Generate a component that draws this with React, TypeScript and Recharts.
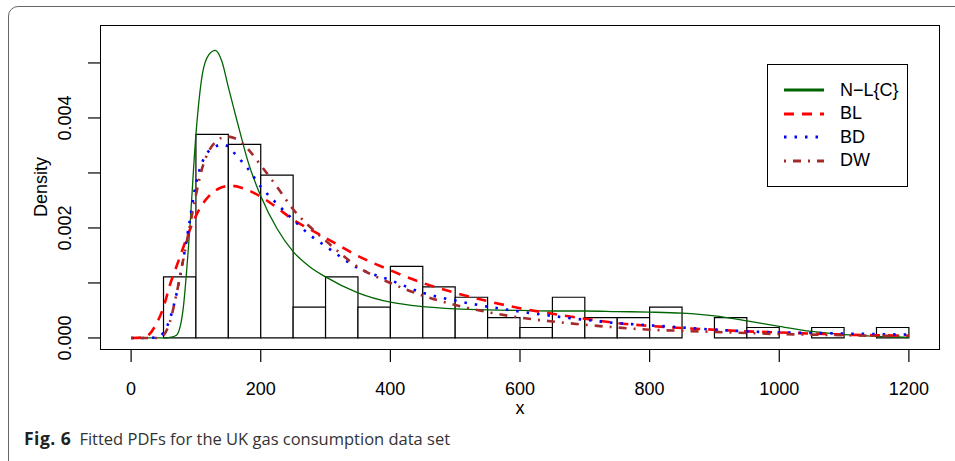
import React from "react";
import { ComposedChart, Line, XAxis, YAxis, ReferenceArea } from "recharts";

// histogram: bin starts (width 50) and densities
const binStarts = [50, 100, 150, 200, 250, 300, 350, 400, 450, 500, 550, 600, 650, 700, 750, 800, 850, 900, 950, 1000, 1050, 1100, 1150];
const binDensity = [
  0.00111, 0.0037, 0.00352, 0.00296, 0.00056, 0.00111, 0.00056, 0.0013, 0.00093, 0.00074, 0.00037, 0.00019,
  0.00074, 0.00037, 0.00037, 0.00056, 0, 0.00037, 0.00019, 0, 0.00019, 0, 0.00019,
];

// fitted density curves, sampled at xs
const xs = [0, 20, 40, 50, 60, 70, 80, 90, 100, 110, 120, 130, 140, 150, 160, 170, 180, 200, 225, 250, 275, 300, 350, 400, 450, 500, 550, 600, 650, 700, 750, 800, 850, 900, 950, 1000, 1050, 1100, 1150, 1200];
const nlc = [
  0, 0, 0, 0, 0.00001, 0.00005, 0.0005, 0.0019, 0.0037, 0.0048, 0.00515, 0.00523, 0.00503, 0.00456, 0.0041, 0.00365, 0.00322,
  0.00258, 0.00199, 0.00157, 0.0013, 0.00111, 0.00082, 0.00065, 0.00057, 0.00053, 0.00051, 0.0005, 0.00049, 0.00049, 0.00048,
  0.00047, 0.00045, 0.0004, 0.00031, 0.00021, 0.00012, 0.00006, 0.00003, 0.00001,
];
const bl = [
  0, 0.00001, 0.00028, 0.00056, 0.00097, 0.0013, 0.00163, 0.00195, 0.00222, 0.00243, 0.00258, 0.00268, 0.00274, 0.00276,
  0.00276, 0.00273, 0.00269, 0.00257, 0.00237, 0.00215, 0.00198, 0.00182, 0.00149, 0.00123, 0.001, 0.00082, 0.00067, 0.00054,
  0.00044, 0.00035, 0.00027, 0.00022, 0.00018, 0.00015, 0.00012, 0.0001, 0.00008, 0.00006, 0.00005, 0.00004,
];
const bd = [
  0, 0, 0.00001, 0.0001, 0.00035, 0.0008, 0.0014, 0.0021, 0.0028, 0.0032, 0.0034, 0.00348, 0.00352, 0.00348, 0.00335, 0.00322,
  0.00308, 0.00275, 0.00244, 0.00215, 0.00188, 0.00167, 0.00127, 0.00105, 0.00082, 0.00068, 0.00057, 0.00048, 0.0004, 0.00033,
  0.00027, 0.00023, 0.00019, 0.00015, 0.00012, 0.0001, 0.00009, 0.00008, 0.00007, 0.00006,
];
const dw = [
  0, 0, 0, 0.00005, 0.0003, 0.0008, 0.0014, 0.002, 0.0026, 0.0031, 0.0034, 0.00356, 0.00364, 0.00366, 0.00363, 0.00356,
  0.00344, 0.00314, 0.00275, 0.00234, 0.00203, 0.00177, 0.00129, 0.001, 0.00077, 0.0006, 0.00047, 0.00037, 0.0003, 0.00024,
  0.00019, 0.00015, 0.00013, 0.00011, 0.00009, 0.00007, 0.00006, 0.00005, 0.00004, 0.00004,
];

const xTicks = [0, 200, 400, 600, 800, 1000, 1200];
const yTicks = [0, 0.001, 0.002, 0.003, 0.004, 0.005];
const yLabels = ["0.000", "0.002", "0.004"];

const series = [
  { key: "nlc", name: "N\u2212L{C}", color: "#006400", width: 1.3, dash: undefined, legendWidth: 3 },
  { key: "bl", name: "BL", color: "#ff0000", width: 2.6, dash: "10 8", legendWidth: 3 },
  { key: "bd", name: "BD", color: "#0000ff", width: 2.6, dash: "2.5 8", legendWidth: 3 },
  { key: "dw", name: "DW", color: "#a52a2a", width: 2.6, dash: "2 7 8 7", legendWidth: 3 },
];

const rows = xs.map((x, i) => ({ x, nlc: nlc[i], bl: bl[i], bd: bd[i], dw: dw[i] }));

const font = "'Liberation Sans', Arial, sans-serif";

const YTick = (props: any) => {
  const { y, payload } = props;
  const label = payload.value.toFixed(3);
  if (!yLabels.includes(label)) return null;
  return (
    <text
      x={65}
      y={y}
      transform={`rotate(-90 65 ${y})`}
      textAnchor="middle"
      dy="0.36em"
      fontSize={18}
      fontFamily={font}
      fill="#000"
    >
      {label}
    </text>
  );
};

function LegendBox() {
  return (
    <div
      style={{
        position: "absolute",
        left: 767,
        top: 64,
        width: 139,
        height: 121,
        border: "1.5px solid #000",
        background: "#fff",
        fontFamily: font,
        fontSize: 18,
      }}
    >
      {series.map((s, i) => (
        <div key={s.key} style={{ position: "absolute", left: 0, top: 13 + i * 23.5, height: 24, display: "flex", alignItems: "center" }}>
          <svg width={60} height={24} style={{ marginLeft: 14 }}>
            <line x1={2} x2={42} y1={12} y2={12} stroke={s.color} strokeWidth={s.legendWidth} strokeDasharray={s.dash} />
          </svg>
          <span style={{ marginLeft: -2 }}>{s.name}</span>
        </div>
      ))}
    </div>
  );
}

export default function App() {
  return (
    <div style={{ position: "absolute", left: 0, top: 0, width: 955, height: 461, overflow: "hidden", background: "#fff" }}>
      <div
        style={{
          position: "absolute",
          left: 8,
          top: 6,
          width: 1000,
          height: 600,
          border: "1px solid #666",
          borderRadius: 10,
        }}
      />
      <div style={{ position: "absolute", left: 0, top: 0 }}>
        <ComposedChart width={955} height={461} data={rows} margin={{ top: 25, right: 15, bottom: 0, left: 0 }}>
          <XAxis
            dataKey="x"
            type="number"
            domain={[-48, 1248]}
            ticks={xTicks}
            allowDataOverflow
            axisLine={false}
            tickSize={12}
            tickMargin={20}
            tickLine={{ stroke: "#000", strokeWidth: 1.2 }}
            tick={{ fill: "#000", fontSize: 18, fontFamily: font }}
            height={111}
          />
          <YAxis
            type="number"
            domain={[-0.000219, 0.00569]}
            ticks={yTicks}
            allowDataOverflow
            axisLine={false}
            tickSize={12}
            tickMargin={0}
            tickLine={{ stroke: "#000", strokeWidth: 1.2 }}
            tick={YTick}
            width={100}
          />
          {binStarts.map((b, i) => (
            <ReferenceArea
              key={b}
              x1={b}
              x2={b + 50}
              y1={0}
              y2={binDensity[i]}
              fill="#fff"
              fillOpacity={1}
              stroke="#000"
              strokeWidth={1.2}
            />
          ))}
          {series.map((s) => (
            <Line
              key={s.key}
              dataKey={s.key}
              type="monotone"
              stroke={s.color}
              strokeWidth={s.width}
              strokeDasharray={s.dash}
              dot={false}
              activeDot={false}
              isAnimationActive={false}
            />
          ))}
          <text x={41} y={187} transform="rotate(-90 41 187)" textAnchor="middle" dy="0.36em" fontSize={18} fontFamily={font} fill="#000">
            Density
          </text>
          <text x={520} y={408} textAnchor="middle" dy="0.36em" fontSize={18} fontFamily={font} fill="#000">
            x
          </text>
        </ComposedChart>
      </div>
      <div style={{ position: "absolute", left: 100, top: 25, width: 840, height: 325, border: "1.3px solid #000", boxSizing: "border-box", pointerEvents: "none" }} />
      <LegendBox />
      <div style={{ position: "absolute", left: 24, top: 426, fontFamily: "'Open Sans', sans-serif", fontSize: 16.5, color: "#333", whiteSpace: "nowrap" }}>
        <b style={{ color: "#222", fontSize: 17.5, letterSpacing: 0.5 }}>Fig. 6</b>
        <span style={{ marginLeft: 8 }}>Fitted PDFs for the UK gas consumption data set</span>
      </div>
    </div>
  );
}
